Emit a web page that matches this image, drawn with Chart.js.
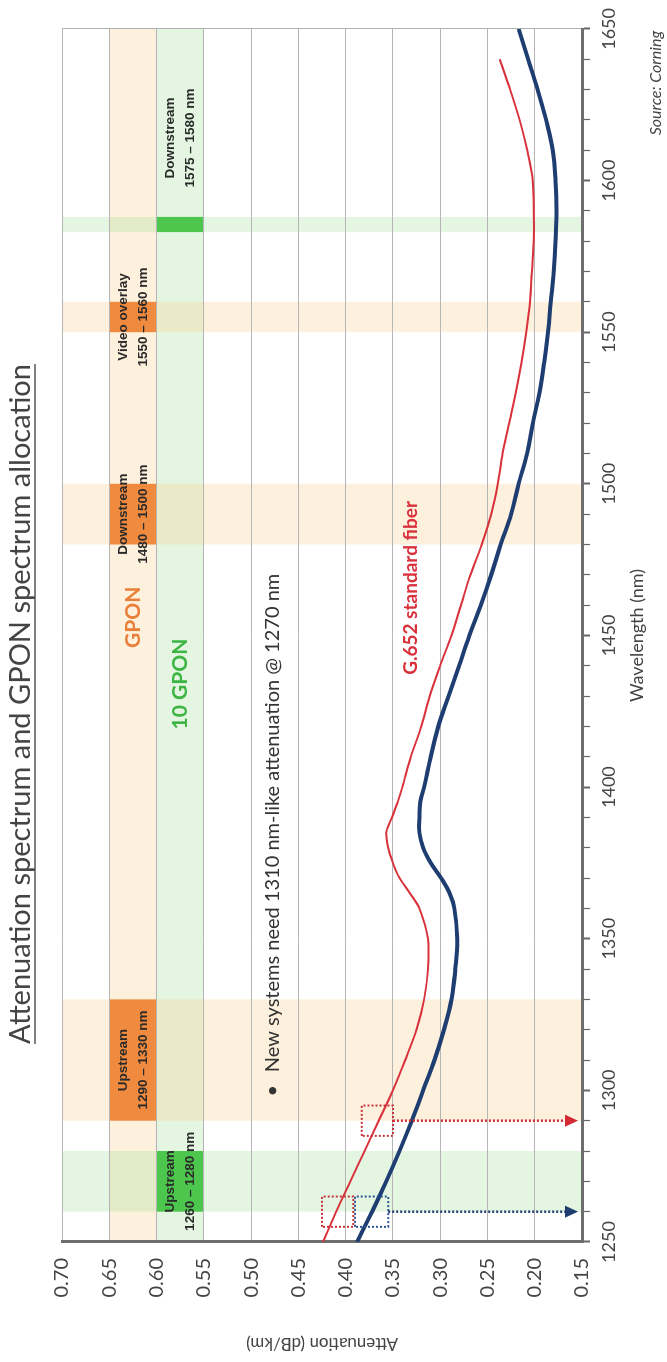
<!DOCTYPE html>
<html>
<head>
<meta charset="utf-8">
<script src="https://cdn.jsdelivr.net/npm/chart.js@4.4.1/dist/chart.umd.min.js"></script>
<style>
  html, body { margin: 0; padding: 0; background: #fff; overflow: hidden; }
  body { width: 667px; height: 1362px; position: relative; }
  /* the source figure is printed turned a quarter turn, so the whole chart is rotated */
  #wrap { position: absolute; left: 0; top: 0; width: 1362px; height: 667px;
          transform-origin: 0 0; transform: translateY(1362px) rotate(-90deg); }
</style>
</head>
<body>
<div id="wrap"><canvas id="chart" width="1362" height="667"></canvas></div>
<script>
"use strict";

// wavelength (nm)
const wavelengths = [1250, 1260, 1270, 1280, 1290, 1300, 1310, 1320, 1330, 1340, 1350, 1360, 1365, 1370,
  1375, 1380, 1385, 1390, 1395, 1400, 1410, 1420, 1430, 1440, 1450, 1460, 1470, 1480, 1490, 1500,
  1510, 1520, 1530, 1540, 1550, 1560, 1570, 1580, 1590, 1600, 1610, 1620, 1630, 1640, 1650];

// attenuation (dB/km), blue curve
const lowWaterPeak = [0.388, 0.372, 0.357, 0.343, 0.330, 0.318, 0.306, 0.296, 0.288, 0.284, 0.282, 0.285, 0.290, 0.299,
  0.310, 0.318, 0.322, 0.322, 0.321, 0.317, 0.310, 0.302, 0.291, 0.280, 0.269, 0.257, 0.246, 0.236, 0.225, 0.217,
  0.208, 0.202, 0.195, 0.190, 0.186, 0.183, 0.180, 0.178, 0.177, 0.178, 0.181, 0.188, 0.197, 0.207, 0.217];

// attenuation (dB/km), G.652 standard fiber (red)
const g652 = [0.424, 0.410, 0.395, 0.380, 0.365, 0.350, 0.337, 0.325, 0.317, 0.313, 0.313, 0.322, 0.332, 0.343,
  0.350, 0.355, 0.357, 0.351, 0.345, 0.340, 0.331, 0.320, 0.311, 0.300, 0.288, 0.278, 0.268, 0.256, 0.246, 0.239,
  0.234, 0.227, 0.220, 0.214, 0.209, 0.205, 0.203, 0.201, 0.201, 0.202, 0.208, 0.216, 0.226, 0.237, null];

// spectrum allocation bands
const bandFrom = [1260, 1290, 1480, 1550, 1583];
const bandTo = [1280, 1330, 1500, 1560, 1588];
const bandSystem = ['10 GPON', 'GPON', 'GPON', 'GPON', '10 GPON'];
const bandText = [
  ['Upstream', '1260 – 1280 nm'],
  ['Upstream', '1290 – 1330 nm'],
  ['Downstream', '1480 – 1500 nm'],
  ['Video overlay', '1550 – 1560 nm'],
  ['Downstream', '1575 – 1580 nm'],
];
const bandTextAt = [1270, 1310, 1490, 1555, 1614];

// rows of the system strips, attenuation from / to
const systems = ['GPON', '10 GPON'];
const systemFrom = [0.60, 0.55];
const systemTo = [0.65, 0.60];
const systemLabelAt = [1456, 1434];

// the two marked wavelengths
const markNm = [1260, 1290];
const yTicks = [0.15, 0.20, 0.25, 0.30, 0.35, 0.40, 0.45, 0.50, 0.55, 0.60, 0.65, 0.70];

const FONT = 'Lato, "Open Sans", sans-serif';
const CREAM = 'rgba(250, 205, 140, 0.30)';
const MINT = 'rgba(120, 210, 110, 0.20)';
const systemColor = { 'GPON': '#f08a3e', '10 GPON': '#4cc64c' };
const systemLight = { 'GPON': CREAM, '10 GPON': MINT };
const systemText = { 'GPON': '#e8803a', '10 GPON': '#3db543' };

function box(chart, nm0, nm1, a0, a1) {
  const { x, y } = chart.scales;
  const l = x.getPixelForValue(nm0), r = x.getPixelForValue(nm1);
  const t = y.getPixelForValue(a1), b = y.getPixelForValue(a0);
  return [l, t, r - l, b - t];
}

const overlay = {
  id: 'overlay',
  beforeDraw(chart) {
    const { ctx } = chart;
    ctx.save();
    systems.forEach((s, i) => {
      ctx.fillStyle = systemLight[s];
      ctx.fillRect(...box(chart, 1250, 1650, systemFrom[i], systemTo[i]));
    });
    bandFrom.forEach((f, i) => {
      ctx.fillStyle = systemLight[bandSystem[i]];
      ctx.fillRect(...box(chart, f, bandTo[i], 0.15, 0.70));
      const row = systems.indexOf(bandSystem[i]);
      ctx.fillStyle = systemColor[bandSystem[i]];
      ctx.fillRect(...box(chart, f, bandTo[i], systemFrom[row], systemTo[row]));
    });
    ctx.restore();
  },
  afterDatasetsDraw(chart) {
    const { ctx, scales: { x, y } } = chart;
    ctx.save();
    ctx.textAlign = 'center';
    ctx.textBaseline = 'middle';
    bandText.forEach((lines, i) => {
      const row = systems.indexOf(bandSystem[i]);
      const cx = x.getPixelForValue(bandTextAt[i]);
      const cy = y.getPixelForValue((systemFrom[row] + systemTo[row]) / 2);
      ctx.font = 'bold 13.5px "Liberation Sans", Arial, sans-serif';
      ctx.fillStyle = '#2a2a2a';
      ctx.fillText(lines[0], cx, cy - 10);
      ctx.fillText(lines[1], cx, cy + 10);
    });
    systems.forEach((s, i) => {
      ctx.font = 'bold 21px ' + FONT;
      ctx.fillStyle = systemText[s];
      ctx.fillText(s, x.getPixelForValue(systemLabelAt[i]), y.getPixelForValue((systemFrom[i] + systemTo[i]) / 2));
    });
    ctx.textAlign = 'left';
    ctx.font = '20px ' + FONT;
    ctx.fillStyle = '#333';
    ctx.fillText('•', x.getPixelForValue(1298), y.getPixelForValue(0.477));
    ctx.fillText('New systems need 1310 nm-like attenuation @ 1270 nm', x.getPixelForValue(1306), y.getPixelForValue(0.477));
    ctx.font = 'bold 19px ' + FONT;
    ctx.fillStyle = '#d9323c';
    ctx.fillText('G.652 standard fiber', x.getPixelForValue(1437), y.getPixelForValue(0.331));
    ctx.restore();
  },
  afterDraw(chart) {
    const { ctx, scales: { x, y } } = chart;
    ctx.save();
    // dotted boxes around the marked points
    const marks = [
      ['#c8323c', 1255, 1265, 0.392, 0.425],
      ['#2f5597', 1255, 1265, 0.355, 0.390],
      ['#c8323c', 1285, 1295, 0.350, 0.383],
    ];
    ctx.lineWidth = 2;
    ctx.setLineDash([2, 2]);
    marks.forEach(m => {
      ctx.strokeStyle = m[0];
      ctx.strokeRect(...box(chart, m[1], m[2], m[3], m[4]));
    });
    // arrows down to the wavelength axis
    const arrowColor = ['#1e3d70', '#d42a34'];
    const arrowFrom = [0.355, 0.350];
    markNm.forEach((nm, i) => {
      const px = x.getPixelForValue(nm);
      const top = y.getPixelForValue(arrowFrom[i]);
      const bot = y.getPixelForValue(0.15) - 4;
      ctx.strokeStyle = arrowColor[i];
      ctx.lineWidth = 2.5;
      ctx.setLineDash([2, 2]);
      ctx.beginPath();
      ctx.moveTo(px, top);
      ctx.lineTo(px, bot - 10);
      ctx.stroke();
      ctx.setLineDash([]);
      ctx.fillStyle = arrowColor[i];
      ctx.beginPath();
      ctx.moveTo(px - 6, bot - 13);
      ctx.lineTo(px + 6, bot - 13);
      ctx.lineTo(px, bot);
      ctx.closePath();
      ctx.fill();
    });
    ctx.setLineDash([]);
    // title, underlined
    const title = 'Attenuation spectrum and GPON spectrum allocation';
    ctx.font = '29px ' + FONT;
    ctx.fillStyle = '#444';
    ctx.textAlign = 'center';
    ctx.textBaseline = 'alphabetic';
    const tx = 658, ty = 30;
    ctx.fillText(title, tx, ty);
    const w = ctx.measureText(title).width;
    ctx.strokeStyle = '#555';
    ctx.lineWidth = 1.5;
    ctx.beginPath();
    ctx.moveTo(tx - w / 2, ty + 5);
    ctx.lineTo(tx + w / 2, ty + 5);
    ctx.stroke();
    // source note
    ctx.font = 'italic 16px ' + FONT;
    ctx.fillStyle = '#444';
    ctx.textAlign = 'right';
    ctx.textBaseline = 'middle';
    ctx.fillText('Source: Corning', x.right - 2, 656);
    ctx.restore();
  }
};

const toPoints = vals => wavelengths.map((w, i) => ({ x: w, y: vals[i] }));

new Chart(document.getElementById('chart'), {
  type: 'line',
  data: {
    datasets: [
      { label: 'Low water peak fiber', data: toPoints(lowWaterPeak), borderColor: '#1e3d70', borderWidth: 4,
        pointRadius: 0, tension: 0.4, spanGaps: false },
      { label: 'G.652 standard fiber', data: toPoints(g652), borderColor: '#d9323c', borderWidth: 2,
        pointRadius: 0, tension: 0.3, spanGaps: false },
    ]
  },
  options: {
    responsive: false,
    animation: false,
    devicePixelRatio: 1,
    layout: { padding: { top: 62, right: 22, left: 0, bottom: 0 } },
    plugins: { legend: { display: false }, tooltip: { enabled: false } },
    scales: {
      x: {
        type: 'linear', min: 1250, max: 1650,
        afterFit(s) { s.height = 85; },
        ticks: { stepSize: 10, autoSkip: false, maxRotation: 0, padding: 8,
          callback: v => (v % 50 === 0 ? String(v) : ''),
          font: { family: FONT, size: 18 }, color: '#444' },
        grid: {
          color: c => (c.tick && c.tick.value === 1650 ? '#b0b0b0' : 'rgba(0,0,0,0)'),
          tickColor: '#666', tickLength: 8,
          tickWidth: c => (c.tick && c.tick.value % 50 === 0 ? 2 : 1.2),
        },
        border: { color: '#6e6e6e', width: 3 },
        title: { display: true, text: 'Wavelength (nm)', font: { family: FONT, size: 18 }, color: '#444',
          padding: { top: 0, bottom: 19 } },
      },
      y: {
        min: 0.15, max: 0.70,
        afterFit(s) { s.width = 120; },
        afterBuildTicks(s) { s.ticks = yTicks.map(v => ({ value: v })); },
        ticks: { callback: v => v.toFixed(2), padding: 16, font: { family: FONT, size: 20 }, color: '#444' },
        grid: { color: '#b5b5b5', lineWidth: 1, drawTicks: false },
        border: { color: '#6e6e6e', width: 3 },
        title: { display: true, text: 'Attenuation (dB/km)', font: { family: FONT, size: 17 }, color: '#444',
          padding: { top: 8, bottom: 0 } },
      }
    }
  },
  plugins: [overlay]
});
</script>
</body>
</html>
